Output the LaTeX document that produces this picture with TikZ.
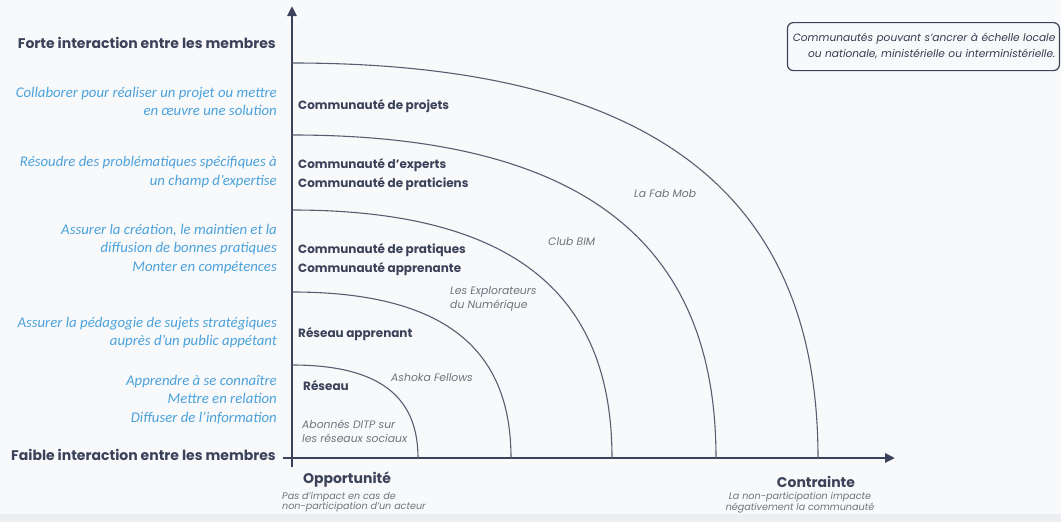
\documentclass[tikz,border=0pt]{standalone}
\usepackage{fontspec}
\setmainfont{Carlito}
\newfontfamily\headfont{Poppins}
\usetikzlibrary{arrows.meta}

\definecolor{navy}{HTML}{3B4259}
\definecolor{skyblue}{HTML}{4BA2DC}
\definecolor{greytext}{HTML}{6E727C}
\definecolor{paper}{HTML}{F8F9FB}
\definecolor{strip}{HTML}{ECEEF1}

\begin{document}
\begin{tikzpicture}[x=1pt, y=1pt,
    axis/.style={draw=navy, line width=2.6pt, -{Triangle[length=10pt, width=9pt]}},
    ring/.style={draw=navy!85, line width=1.1pt},
    level/.style={font=\headfont\bfseries\fontsize{14}{16}\selectfont, text=navy, anchor=east, inner sep=0pt},
    goal/.style={font=\itshape\fontsize{14.8}{18.5}\selectfont, text=skyblue, align=right, anchor=east, inner sep=0pt},
    kind/.style={font=\headfont\bfseries\fontsize{12}{19}\selectfont, text=navy, align=left, anchor=west, inner sep=0pt},
    example/.style={font=\headfont\itshape\fontsize{10.8}{14}\selectfont, text=greytext, align=left, anchor=west, inner sep=0pt},
    pole/.style={font=\headfont\bfseries\fontsize{14}{16}\selectfont, text=navy, inner sep=0pt},
    polenote/.style={font=\headfont\itshape\fontsize{9.6}{10}\selectfont, text=greytext, inner sep=0pt},
    note/.style={draw=navy, line width=1.2pt, rounded corners=6pt, font=\headfont\itshape\fontsize{10.6}{16}\selectfont,
        text=navy!90!black, text width=264pt, align=right, inner xsep=4pt, minimum height=48pt}]

% page and background
\useasboundingbox (0,0) rectangle (1061,-522);
\fill[paper] (0,0) rectangle (1061,-522);
\fill[strip] (0,-514) rectangle (1061,-522);

% the two axes
\coordinate (O) at (292,-458);
\coordinate (ytop) at (292,-6);
\coordinate (ybot) at (292,-467);
\coordinate (xleft) at (283,-458);
\coordinate (xright) at (895,-458);
\draw[axis] (ybot) -- (ytop);
\draw[axis] (xleft) -- (xright);

% nested quarter rings, flat on top, inner to outer
\foreach \rx/\ry in {126/93, 219/166, 320/248, 424/323, 526/395} {
    \draw[ring, shift={(O)}] (0,\ry) .. controls (0.75*\rx,\ry) and (\rx,0.6*\ry) .. (\rx,0);
}

% vertical axis: interaction level
\node[level] (strong) at (276,-43) {Forte interaction entre les membres};
\node[level] (weak) at (276,-455) {Faible interaction entre les membres};

% aims of each kind of community
\node[goal] (aim5) at (277,-101.5) {Collaborer pour réaliser un projet ou mettre\\en œuvre une solution};
\node[goal] (aim4) at (277,-172) {Résoudre des problématiques spécifiques à\\un champ d’expertise};
\node[goal] (aim3) at (277,-249) {Assurer la création, le maintien et la\\diffusion de bonnes pratiques\\Monter en compétences};
\node[goal] (aim2) at (277,-332.5) {Assurer la pédagogie de sujets stratégiques\\auprès d’un public appétant};
\node[goal] (aim1) at (277,-399.5) {Apprendre à se connaître\\Mettre en relation\\Diffuser de l’information};

% kinds of community, one per ring
\node[kind] (projets) at (298,-106) {Communauté de projets};
\node[kind] (experts) at (298,-174.5) {Communauté d’experts\\Communauté de praticiens};
\node[kind] (pratiques) at (298,-259.5) {Communauté de pratiques\\Communauté apprenante};
\node[kind] (apprenant) at (298,-334) {Réseau apprenant};
\node[kind] (reseau) at (303,-386) {Réseau};

% examples
\node[example] (ditp) at (302,-431) {Abonnés DITP sur\\les réseaux sociaux};
\node[example] (ashoka) at (391,-378) {Ashoka Fellows};
\node[example] (explo) at (450,-299) {Les Explorateurs\\du Numérique};
\node[example] (bim) at (548,-242) {Club BIM};
\node[example] (fabmob) at (634,-194) {La Fab Mob};

% horizontal axis: opportunity vs constraint
\node[pole] (opp) at (347,-480) {Opportunité};
\node[polenote, align=left, anchor=north west] (oppnote) at (282,-492) {Pas d’impact en cas de\\non-participation d’un acteur};
\node[pole] (con) at (816,-482) {Contrainte};
\node[polenote, align=center, anchor=north] (connote) at (800,-492) {La non-participation impacte\\négativement la communauté};

% scope note
\node[note, anchor=north east] (scope) at (1060,-22) {Communautés pouvant s’ancrer à échelle locale\\ou nationale, ministérielle ou interministérielle.};

\end{tikzpicture}
\end{document}
